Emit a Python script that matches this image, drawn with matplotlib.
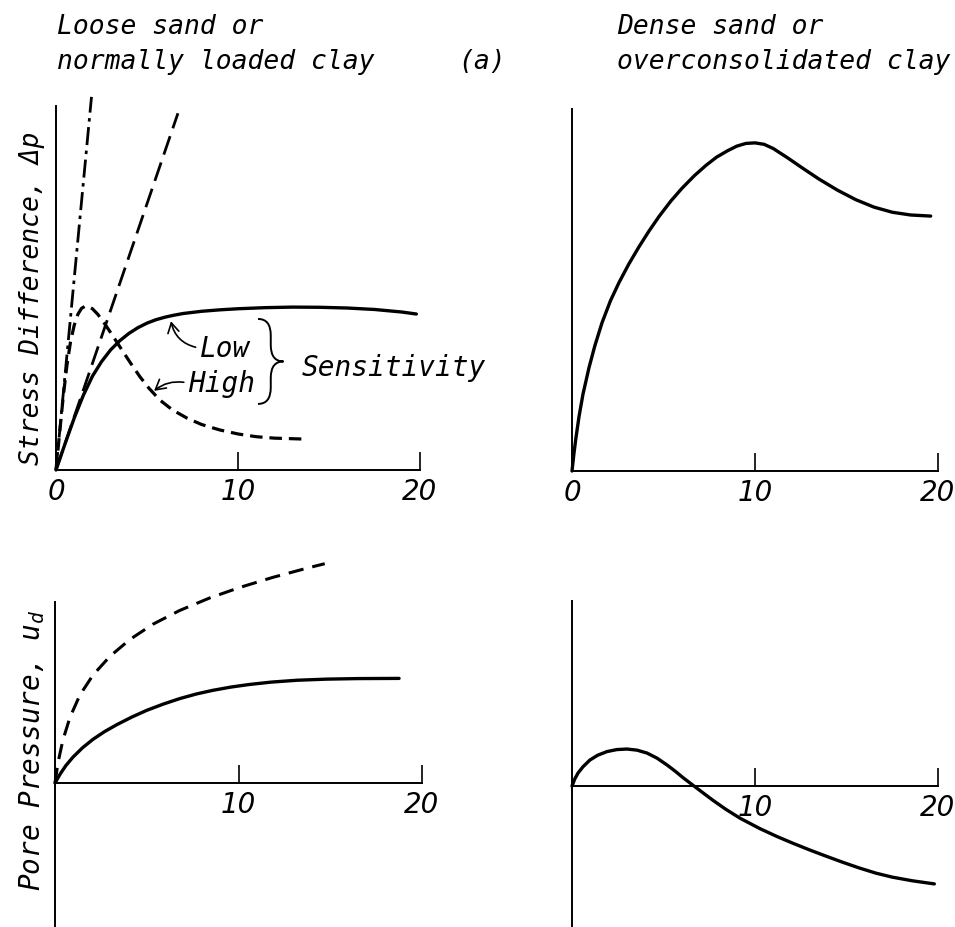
import matplotlib
matplotlib.use("Agg")
import matplotlib.pyplot as plt
from matplotlib.path import Path
from matplotlib.patches import PathPatch

# strain in %, stress / pore pressure in arbitrary units

# (a) loose sand or normally loaded clay - stress difference
loose_low_strain = [0, 0.5, 1.0, 1.5, 2.0, 2.5, 3.0, 3.5, 4.0, 4.5, 5.0, 5.5, 6.0, 6.5, 7.0,
                    8.0, 9.0, 10.0, 11.5, 13.0, 14.5, 16.0, 17.5, 19.0, 19.8]
loose_low_stress = [0, 1.45, 2.85, 4.1, 5.15, 5.95, 6.6, 7.1, 7.5, 7.82, 8.07, 8.26, 8.4, 8.51, 8.6,
                    8.72, 8.8, 8.86, 8.92, 8.95, 8.94, 8.9, 8.82, 8.68, 8.57]

loose_high_strain = [0, 0.2, 0.4, 0.6, 0.8, 1.0, 1.2, 1.4, 1.6, 1.8, 2.0, 2.3, 2.7, 3.1, 3.6, 4.1,
                     4.6, 5.1, 5.7, 6.4, 7.2, 8.0, 9.0, 10.0, 11.0, 12.0, 13.57]
loose_high_stress = [0, 2.05, 4.05, 5.75, 7.05, 7.95, 8.55, 8.88, 9.0, 8.98, 8.86, 8.55, 8.0, 7.4,
                     6.63, 5.87, 5.14, 4.5, 3.85, 3.3, 2.85, 2.5, 2.2, 1.98, 1.83, 1.75, 1.7]

# initial tangents
tangent_low_strain = [0, 6.7]
tangent_low_stress = [0, 19.6]
tangent_high_strain = [0, 1.95]
tangent_high_stress = [0, 20.5]

# dense sand or overconsolidated clay - stress difference
dense_strain = [0, 0.1, 0.2, 0.38, 0.6, 0.93, 1.25, 1.64, 2.1, 2.57, 3.1, 3.66, 4.2, 4.75, 5.4,
                6.01, 6.7, 7.32, 7.9, 8.5, 9.0, 9.5, 10.0, 10.5, 11.0, 11.8, 12.6, 13.5, 14.5,
                15.5, 16.5, 17.5, 18.5, 19.6]
dense_stress = [0, 0.9, 1.7, 2.95, 4.2, 5.65, 6.85, 8.1, 9.3, 10.3, 11.3, 12.25, 13.1, 13.9, 14.75,
                15.45, 16.15, 16.7, 17.15, 17.5, 17.75, 17.9, 17.93, 17.85, 17.62, 17.1, 16.55,
                15.95, 15.35, 14.83, 14.42, 14.14, 13.99, 13.93]

# pore pressure, loose sand
loose_u_low_strain = [0, 0.3, 0.6, 0.98, 1.5, 2.07, 2.7, 3.37, 4.2, 5.0, 5.9, 6.8, 7.7, 8.6, 9.6,
                      10.6, 11.8, 13.2, 14.8, 16.5, 18.75]
loose_u_low = [0, 0.52, 0.96, 1.41, 1.92, 2.38, 2.8, 3.18, 3.6, 3.96, 4.3, 4.6, 4.85, 5.05, 5.23,
               5.37, 5.5, 5.6, 5.66, 5.69, 5.7]

loose_u_high_strain = [0, 0.16, 0.43, 0.82, 1.36, 2.07, 2.99, 4.08, 5.33, 6.79, 8.42, 10.05, 11.85,
                       13.7, 14.7]
loose_u_high = [0, 1.09, 2.34, 3.59, 4.8, 5.88, 6.9, 7.82, 8.65, 9.4, 10.08, 10.65, 11.2, 11.7, 11.95]

# pore pressure, dense sand
dense_u_strain = [0, 0.15, 0.33, 0.6, 0.98, 1.4, 1.91, 2.45, 3.0, 3.55, 4.1, 4.65, 5.19, 5.65, 6.1,
                  6.6, 7.1, 7.7, 8.4, 9.2, 10.27, 11.2, 12.1, 13.0, 13.9, 14.8, 15.7, 16.6, 17.5,
                  18.6, 19.8]
dense_u = [0, 0.38, 0.71, 1.05, 1.42, 1.68, 1.88, 1.99, 2.02, 1.96, 1.8, 1.52, 1.15, 0.8, 0.43,
           0.05, -0.33, -0.78, -1.27, -1.77, -2.33, -2.76, -3.14, -3.5, -3.84, -4.17, -4.48, -4.76,
           -4.98, -5.18, -5.35]

top_ticks = [0, 10, 20]
bottom_ticks = [10, 20]

plt.rcParams["lines.scale_dashes"] = False
plt.rcParams["mathtext.fontset"] = "custom"
plt.rcParams["mathtext.it"] = "DejaVu Sans Mono:italic"
plt.rcParams["mathtext.rm"] = "DejaVu Sans Mono"

W, H = 955, 928
LETTER = dict(family="DejaVu Sans Mono", style="italic", color="black")

fig = plt.figure(figsize=(W / 100, H / 100), dpi=100)


def place_axes(origin_px, scale_px, xlim, ylim):
    # put an axes so that data (0, 0) lands on origin_px
    ox, oy = origin_px
    left = (ox + xlim[0] * scale_px) / W
    width = (xlim[1] - xlim[0]) * scale_px / W
    bottom = 1 - (oy - ylim[0] * scale_px) / H
    height = (ylim[1] - ylim[0]) * scale_px / H
    ax = fig.add_axes([left, bottom, width, height])
    ax.set_xlim(xlim)
    ax.set_ylim(ylim)
    ax.patch.set_alpha(0)
    return ax


def style_axes(ax, y_low, y_high, ticks):
    for s in ["top", "right"]:
        ax.spines[s].set_visible(False)
    for s in ["left", "bottom"]:
        ax.spines[s].set_position(("data", 0))
        ax.spines[s].set_linewidth(1.4)
    ax.spines["left"].set_bounds(y_low, y_high)
    ax.spines["bottom"].set_bounds(0, 20)
    ax.set_yticks([])
    ax.set_xticks(ticks, [str(t) for t in ticks], fontsize=20,
                  fontfamily="DejaVu Sans", fontstyle="italic")
    ax.tick_params(axis="x", direction="in", length=13, width=1.2, pad=5)


def brace(ax, x_end, x_tip, y_bot, y_top, r=0.9):
    xm = (x_end + x_tip) / 2
    ym = (y_bot + y_top) / 2
    verts = [(x_end, y_top), (xm, y_top), (xm, y_top - r),
             (xm, ym + r), (xm, ym), (x_tip, ym),
             (xm, ym), (xm, ym - r),
             (xm, y_bot + r), (xm, y_bot), (x_end, y_bot)]
    codes = [Path.MOVETO, Path.CURVE3, Path.CURVE3,
             Path.LINETO, Path.CURVE3, Path.CURVE3,
             Path.CURVE3, Path.CURVE3,
             Path.LINETO, Path.CURVE3, Path.CURVE3]
    ax.add_patch(PathPatch(Path(verts, codes), fill=False, lw=1.4, color="black"))


xl = (-2.5, 24)
arrow_style = "->,head_length=0.35,head_width=0.2"

# top left: loose sand stress difference
ax1 = place_axes((56, 471), 18.2, xl, (-2, 22))
style_axes(ax1, 0, 20.0, top_ticks)
ax1.plot(loose_low_strain, loose_low_stress, color="black", lw=2.4, solid_capstyle="round")
ax1.plot(loose_high_strain, loose_high_stress, color="black", lw=2.3, linestyle=(0, (9, 5)))
ax1.plot(tangent_low_strain, tangent_low_stress, color="black", lw=2.0, linestyle=(0, (14, 6)))
ax1.plot(tangent_high_strain, tangent_high_stress, color="black", lw=2.0,
         linestyle=(0, (13, 4, 2.5, 4)))

ax1.annotate("Low", xy=(6.3, 8.25), xytext=(7.9, 6.26), fontsize=20, va="baseline", **LETTER,
             arrowprops=dict(arrowstyle=arrow_style, lw=1.2,
                             connectionstyle="arc3,rad=-0.35", relpos=(0, 0.5),
                             shrinkA=1, shrinkB=1, color="black"))
ax1.annotate("High", xy=(5.33, 4.3), xytext=(7.25, 4.34), fontsize=20, va="baseline", **LETTER,
             arrowprops=dict(arrowstyle=arrow_style, lw=1.2,
                             connectionstyle="arc3,rad=0.25", relpos=(0, 0.5),
                             shrinkA=1, shrinkB=1, color="black"))
brace(ax1, 11.1, 12.5, 3.63, 8.3)
ax1.text(13.5, 5.2, "Sensitivity", fontsize=20, va="baseline", **LETTER)

# top right: dense sand stress difference
ax2 = place_axes((572, 472), 18.3, xl, (-2, 22))
style_axes(ax2, 0, 19.8, top_ticks)
ax2.plot(dense_strain, dense_stress, color="black", lw=2.4, solid_capstyle="round")

# bottom left: loose sand pore pressure
ax3 = place_axes((55, 784), 18.35, xl, (-8.5, 13))
style_axes(ax3, -8.5, 9.85, bottom_ticks)
ax3.plot(loose_u_low_strain, loose_u_low, color="black", lw=2.4, solid_capstyle="round")
ax3.plot(loose_u_high_strain, loose_u_high, color="black", lw=2.2, linestyle=(0, (11, 6.5)))

# bottom right: dense sand pore pressure
ax4 = place_axes((572, 787), 18.3, xl, (-8.5, 13))
style_axes(ax4, -8.5, 10.1, bottom_ticks)
ax4.plot(dense_u_strain, dense_u, color="black", lw=2.4, solid_capstyle="round")

# headings and axis names
fig.text(57 / W, 1 - 34 / H, "Loose sand or", fontsize=19, va="baseline", **LETTER)
fig.text(57 / W, 1 - 69 / H, "normally loaded clay", fontsize=19, va="baseline", **LETTER)
fig.text(482 / W, 1 - 69 / H, "(a)", fontsize=19, va="baseline", ha="center", **LETTER)
fig.text(617 / W, 1 - 34 / H, "Dense sand or", fontsize=19, va="baseline", **LETTER)
fig.text(617 / W, 1 - 69 / H, "overconsolidated clay", fontsize=19, va="baseline", **LETTER)

fig.text(32 / W, 1 - 298 / H, "Stress Difference, Δp", fontsize=19, rotation=90,
         ha="center", va="center", **LETTER)
fig.text(32 / W, 1 - 750 / H, "Pore Pressure, $u_d$", fontsize=20, rotation=90,
         ha="center", va="center", **LETTER)

fig.savefig("out.png", dpi=100)
